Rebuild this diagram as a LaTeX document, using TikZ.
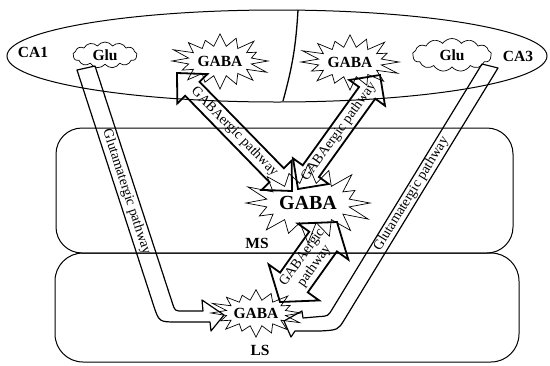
\documentclass[tikz,border=0pt]{standalone}
\usepackage{fontspec}
\setmainfont{Liberation Serif}
\usetikzlibrary{shapes.symbols,calc}
\newcommand\dblarrow[6]{%
  \coordinate (da1) at ($(#1)!#5!(#2)$);
  \coordinate (da2) at ($(#2)!#5!(#1)$);
  \draw[thickarrow] (#1) -- ($(da1)!#4!90:(#2)$) -- ($(da1)!#3!90:(#2)$)
    -- ($(da2)!#3!-90:(#1)$) -- ($(da2)!#4!-90:(#1)$) -- (#2)
    -- ($(da2)!#4!90:(#1)$) -- ($(da2)!#3!90:(#1)$)
    -- ($(da1)!#3!-90:(#2)$) -- ($(da1)!#4!-90:(#2)$) -- cycle;
  \path (#1) -- node[sloped, ptext, align=center] {#6} (#2);
}
% spiky burst around a named node: #1 node, #2/#3 inner radii, #4/#5 outer radii
\newcommand\spikes[5]{%
  \draw[starline] ($(#1)+(0:#4 and #5)$)
    \foreach \k/\f in {1/.82,2/1,3/.88,4/.97,5/.8,6/.93,7/1.05,8/1.0,9/.85,10/.95,11/.82,12/1,13/.9,14/.97,15/1.05} {
      -- ($(#1)+({(\k-0.5)*22.5}:#2 and #3)$) -- ($(#1)+({\k*22.5}:{\f*#4} and {\f*#5})$) }
    -- ($(#1)+(348.75:#2 and #3)$) -- cycle;
}
\begin{document}
\begin{tikzpicture}[x=1pt,y=-1pt,
  lbl/.style={font=\bfseries\fontsize{15.5}{18}\selectfont, inner sep=0},
  starline/.style={draw, line width=0.7pt, line join=miter},
  puff/.style={cloud, cloud puffs=13, cloud puff arc=110, aspect=2.5, draw,
    line width=0.7pt, inner sep=0, font=\bfseries\fontsize{15.5}{18}\selectfont},
  band/.style={draw, line width=1.2pt, line join=round},
  thickarrow/.style={draw, line width=1.8pt, line join=miter},
  ptext/.style={font=\fontsize{14}{15}\selectfont, inner sep=0},
  region/.style={draw, line width=1pt},
]
\useasboundingbox (0,0) rectangle (550,365);

% regions
\draw[region] (277,56) ellipse [x radius=270pt, y radius=46pt];
\draw[region, line width=1.3pt] (298,10) to[bend left=6] (283,101);
\draw[region, rounded corners=26pt] (56,128) rectangle (513,253);
\draw[region, rounded corners=28pt] (55,253) rectangle (519,362);

% labels
\node[lbl] (ca1) at (33,52) {CA1};
\node[lbl] (ca3) at (518,56) {CA3};
\node[lbl] (ms) at (257,243) {MS};
\node[lbl] (ls) at (260,350) {LS};

% GABA bursts
\node[lbl] (g1) at (220,61) {GABA};
\spikes{g1}{32pt}{15pt}{48pt}{28pt}
\node[lbl] (g2) at (350,62) {GABA};
\spikes{g2}{32pt}{15pt}{49pt}{28pt}
\node[lbl, font=\bfseries\fontsize{20}{24}\selectfont] (g3) at (308,203) {GABA};
\spikes{g3}{42pt}{20pt}{62pt}{40pt}
\node[lbl] (g4) at (256,313) {GABA};
\spikes{g4}{30pt}{13pt}{45pt}{24pt}

% Glu clouds
\node[puff, minimum width=64pt, minimum height=26pt] (glu1) at (105,55) {Glu};
\node[puff, minimum width=79pt, minimum height=33pt] (glu2) at (452,55) {Glu};

% glutamatergic pathway, left (CA1 -> LS)
\coordinate (l1a) at (86,68);
\coordinate (l1b) at (167,316);
\draw[band] (77,70) -- (153.4,304.9) .. controls (159,322) .. (177,322) -- (210,322)
  -- (211,331) -- (224,315) -- (202,300) -- (203,311) -- (183,311)
  .. controls (175,311) .. (172.5,303.4) -- (95,66) -- cycle;
\path (l1a) -- node[sloped, ptext] {Glutamatergic pathway} (l1b);

% glutamatergic pathway, right (CA3 -> LS)
\coordinate (r1a) at (490,66);
\coordinate (r1b) at (333,322);
\draw[band] (482,64) -- (332.2,309.2) .. controls (328,316) .. (320,316.5) -- (303,318)
  -- (302,311) -- (284,321) -- (291,337) -- (295,331) -- (320,331)
  .. controls (338,330) .. (344.3,319.8) -- (498,68) -- cycle;
\path (r1a) -- node[sloped, ptext] {Glutamatergic pathway} (r1b);

% GABAergic pathways
\coordinate (a1a) at (177,73);
\coordinate (a1b) at (292,191);
\dblarrow{a1a}{a1b}{10pt}{21pt}{22pt}{GABAergic pathway}
\coordinate (a2a) at (298,189);
\coordinate (a2b) at (380,75);
\dblarrow{a2a}{a2b}{10pt}{22pt}{22pt}{GABAergic pathway}
\coordinate (a3a) at (280,302);
\coordinate (a3b) at (337,222);
\dblarrow{a3a}{a3b}{17pt}{31pt}{24pt}{GABAergic\\pathway}
\end{tikzpicture}
\end{document}
